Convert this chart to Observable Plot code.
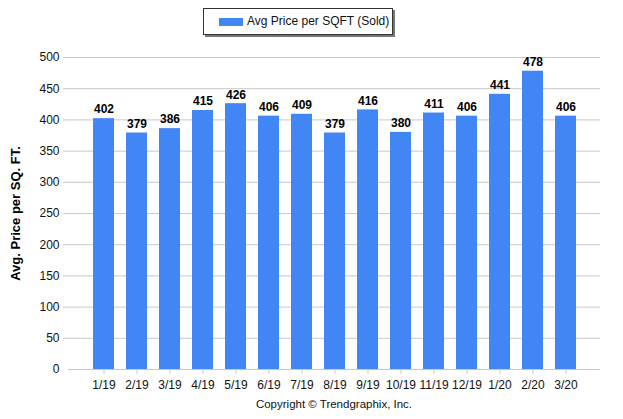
<!DOCTYPE html>
<html>
<head>
<meta charset="utf-8">
<script src="https://cdn.jsdelivr.net/npm/d3@7"></script>
<script src="https://cdn.jsdelivr.net/npm/@observablehq/plot@0.6"></script>
<style>
  body { margin: 0; background: #fff; font-family: "Liberation Sans", Arial, sans-serif; }
  #wrap { position: relative; width: 623px; height: 419px; }
  #legend { position: absolute; left: 203px; top: 8px; width: 188px; height: 25px; border: 1px solid #333;
            box-shadow: 2px 2px 0 #777; background: #fff; font-size: 12px; color: #111; }
  #legend .sw { position: absolute; left: 15px; top: 9px; width: 24px; height: 8px; background: #4285f4; }
  #legend .lb { position: absolute; left: 43px; top: 5px; white-space: nowrap; }
  #copy { position: absolute; left: 68px; width: 532px; top: 398px; text-align: center; font-size: 11.5px; color: #111; }
  svg { position: absolute; left: 0; top: 0; }
</style>
</head>
<body>
<div id="wrap">
  <div id="chart"></div>
  <div id="legend"><div class="sw"></div><div class="lb">Avg Price per SQFT (Sold)</div></div>
  <div id="copy">Copyright © Trendgraphix, Inc.</div>
</div>
<script>
const months = ["1/19","2/19","3/19","4/19","5/19","6/19","7/19","8/19","9/19","10/19","11/19","12/19","1/20","2/20","3/20"];
const prices = [402,379,386,415,426,406,409,379,416,380,411,406,441,478,406];
const yTicks = [0,50,100,150,200,250,300,350,400,450,500];
const yTitle = "Avg. Price per SQ. FT.";

const data = months.map((m, i) => ({month: m, price: prices[i]}));

const chart = Plot.plot({
  width: 623,
  height: 419,
  marginTop: 57,
  marginBottom: 50,
  marginLeft: 68,
  marginRight: 23,
  style: {fontFamily: "'Liberation Sans', Arial, sans-serif", fontSize: "12px", color: "#111", background: "transparent"},
  x: {domain: months, paddingInner: 0.37, paddingOuter: 0.685, label: null},
  y: {domain: [0, 500], label: null},
  marks: [
    Plot.ruleY(yTicks.filter(d => d > 0), {stroke: "#c8c8c8", strokeWidth: 1, insetLeft: -5}),
    Plot.axisY(yTicks, {tickSize: 0, tickPadding: 9, fontSize: 12, fill: "#111"}),
    Plot.barY(data, {x: "month", y: "price", fill: "#4285f4"}),
    Plot.text(data, {x: "month", y: "price", text: d => String(d.price), dy: -9, fontWeight: "bold", fontSize: 12, fill: "#000"}),
    Plot.ruleY([0], {stroke: "#c8c8c8", strokeWidth: 1}),
    Plot.axisX({tickSize: 5, tickPadding: 6, stroke: "#c8c8c8", fontSize: 12, fill: "#111"}),
    Plot.text([yTitle], {frameAnchor: "left", textAnchor: "middle", dx: -53, rotate: -90, fontWeight: "bold", fontSize: 13, fill: "#000"})
  ]
});
document.getElementById("chart").appendChild(chart);
</script>
</body>
</html>
